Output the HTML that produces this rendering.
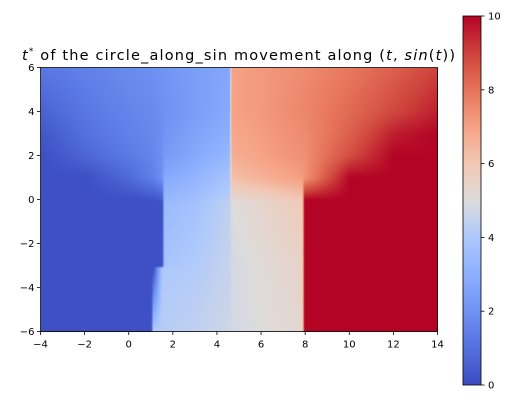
<!DOCTYPE html>
<html><head><meta charset="utf-8"><style>
body{margin:0;background:#fff;width:517px;height:403px;overflow:hidden;position:relative;font-family:"DejaVu Sans","Liberation Sans",sans-serif}
canvas{position:absolute}
svg{position:absolute;left:0;top:0}
</style></head><body>
<canvas id="hm" width="397" height="264" style="left:40.5px;top:67.5px"></canvas>
<canvas id="cb" width="18" height="369" style="left:463px;top:16px"></canvas>
<svg id="sv" width="517" height="403"></svg>
<script>
// grid data: column x-coordinates, row y-coordinates, values
const xs = [-4,-2,0,1.0,1.1,1.5,1.6,3,4.55,4.65,6,7.85,7.95,10,12,14];
const ys = [6,4,3,2,1,0,-0.1,-3,-3.1,-6];
const row0 = [1.2,1.5,1.8,1.95,2.0,2.1,2.1,2.4,2.7,7.0,7.2,7.5,7.5,7.9,8.4,9.0];
const row1 = [0.6,1.2,1.6,1.75,1.8,1.9,2.0,2.4,2.8,7.0,7.2,7.6,7.6,8.2,8.9,9.6];
const rowA = [0.3,1.0,1.5,1.7,1.75,1.9,2.1,2.6,3.0,6.9,7.1,7.5,7.5,8.4,9.6,10];
const row2 = [0.1,0.7,1.3,1.6,1.7,2.0,2.3,2.8,3.3,6.7,7.0,7.4,7.4,8.8,10,10];
const row3 = [0.1,0.1,0.8,1.4,1.5,2.0,2.8,3.2,3.8,6.2,6.6,7.1,7.3,10,10,10];
const row4 = [0.1,0.1,0.1,0.2,0.2,0.4,3.3,3.6,4.3,5.2,5.5,6.0,10,10,10,10];
const row5 = [0.1,0.1,0.1,0.1,0.1,0.1,3.4,3.7,4.4,5.0,5.4,5.9,10,10,10,10];
const row6 = [0.1,0.1,0.1,0.1,0.1,0.1,3.8,4.1,4.5,4.8,5.1,5.5,10,10,10,10];
const row7 = [0.1,0.1,0.1,0.1,0.1,4.0,4.0,4.1,4.5,4.8,5.1,5.5,10,10,10,10];
const row8 = [0.1,0.1,0.1,0.1,4.1,4.2,4.2,4.4,4.7,4.8,5.0,5.3,10,10,10,10];
const grid = [row0,row1,rowA,row2,row3,row4,row5,row6,row7,row8];
const xTicks = [-4,-2,0,2,4,6,8,10,12,14];
const yTicks = [-6,-4,-2,0,2,4,6];
const cTicks = [0,2,4,6,8,10];

const PX0=40.5,PX1=437.5,PY0=67.5,PY1=331.5;
const XMIN=-4,XMAX=14,YMIN=-6,YMAX=6,VMIN=0,VMAX=10;
const sx=x=>PX0+(x-XMIN)/(XMAX-XMIN)*(PX1-PX0);
const sy=y=>PY1-(y-YMIN)/(YMAX-YMIN)*(PY1-PY0);
const cmapStops=[[59,76,192],[84,112,222],[111,146,243],[141,176,254],[174,201,252],[221,220,220],[242,200,180],[246,163,134],[230,116,90],[206,67,60],[180,4,38]];
function cmap(v){let t=(v-VMIN)/(VMAX-VMIN)*10;t=Math.max(0,Math.min(10,t));const i=Math.min(9,Math.floor(t)),f=t-i;const a=cmapStops[i],b=cmapStops[i+1];return [0,1,2].map(k=>Math.round(a[k]+(b[k]-a[k])*f));}
function seg(arr,v,desc){for(let i=0;i<arr.length-1;i++){const a=arr[i],b=arr[i+1];if(desc?(v<=a&&v>=b):(v>=a&&v<=b))return [i,(v-a)/(b-a)];}return [arr.length-2,1];}
function val(x,y){const [i,fx]=seg(xs,x,false);const [j,fy]=seg(ys,y,true);const r0=grid[j],r1=grid[j+1];const top=r0[i]+(r0[i+1]-r0[i])*fx,bot=r1[i]+(r1[i+1]-r1[i])*fx;return top+(bot-top)*fy;}
const hm=document.getElementById('hm'),ctx=hm.getContext('2d');const W=hm.width,H=hm.height;const img=ctx.createImageData(W,H);
for(let py=0;py<H;py++)for(let px=0;px<W;px++){const x=XMIN+(px+0.5)/W*(XMAX-XMIN),y=YMAX-(py+0.5)/H*(YMAX-YMIN);const c=cmap(val(x,y));const o=(py*W+px)*4;img.data[o]=c[0];img.data[o+1]=c[1];img.data[o+2]=c[2];img.data[o+3]=255;}
ctx.putImageData(img,0,0);
const cb=document.getElementById('cb'),cc=cb.getContext('2d');
for(let py=0;py<cb.height;py++){const c=cmap(VMAX-(py+0.5)/cb.height*(VMAX-VMIN));cc.fillStyle=`rgb(${c})`;cc.fillRect(0,py,cb.width,1);}
const NS='http://www.w3.org/2000/svg',sv=document.getElementById('sv');
function el(t,a,txt){const e=document.createElementNS(NS,t);for(const k in a)e.setAttribute(k,a[k]);if(txt!=null)e.textContent=txt;sv.appendChild(e);return e;}
let f=el('rect',{x:PX0,y:PY0,width:PX1-PX0,height:PY1-PY0,fill:'none',stroke:'#000','stroke-width':0.8});


xTicks.forEach(t=>{const x=sx(t);
const l=el('line',{x1:x,x2:x,y1:PY1,y2:PY1+3.5,stroke:'#000','stroke-width':0.8});


const tx=el('text',{x:x,y:PY1+16,'font-size':10,'text-anchor':'middle',fill:'#000'},t<0?'\u2212'+(-t):String(t));

});
yTicks.forEach(t=>{const y=sy(t);
const l=el('line',{x1:PX0-3.5,x2:PX0,y1:y,y2:y,stroke:'#000','stroke-width':0.8});


const tx=el('text',{x:PX0-6,y:y+3.5,'font-size':10,'text-anchor':'end',fill:'#000'},t<0?'\u2212'+(-t):String(t));

});
const CB0=16,CB1=385;
let cf=el('rect',{x:463,y:CB0,width:18,height:CB1-CB0,fill:'none',stroke:'#000','stroke-width':0.8});


cTicks.forEach(t=>{const y=CB1-(t-VMIN)/(VMAX-VMIN)*(CB1-CB0);
const l=el('line',{x1:481,x2:484.5,y1:y,y2:y,stroke:'#000','stroke-width':0.8});


const tx=el('text',{x:488,y:y+3.5,'font-size':10,fill:'#000'},String(t));

});
const title=el('text',{x:22,y:60,'font-size':14.5,fill:'#000',textLength:433,lengthAdjust:'spacing'});


title.innerHTML='<tspan font-style="italic">t</tspan><tspan font-size="9" dy="-6">*</tspan><tspan dy="6"> of the circle_along_sin movement along (</tspan><tspan font-style="italic">t</tspan>, <tspan font-style="italic">sin</tspan>(<tspan font-style="italic">t</tspan>))';
</script>
</body></html>
